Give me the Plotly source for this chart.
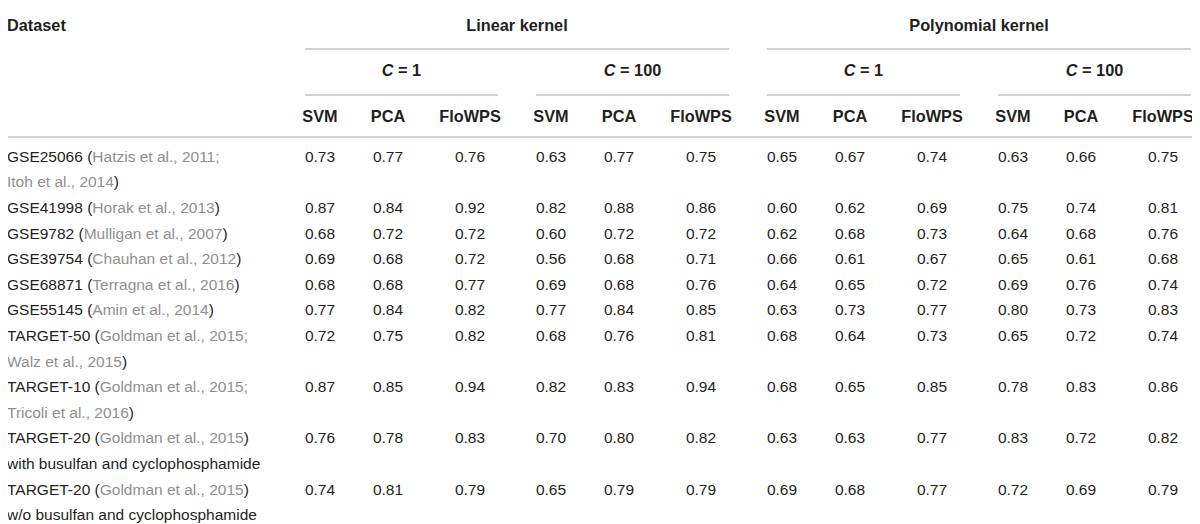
import plotly.graph_objects as go

# Table values
names = ["GSE25066", "GSE41998", "GSE9782", "GSE39754", "GSE68871",
         "GSE55145", "TARGET-50", "TARGET-10", "TARGET-20", "TARGET-20"]
refs = ["Hatzis et al., 2011;|Itoh et al., 2014", "Horak et al., 2013",
        "Mulligan et al., 2007", "Chauhan et al., 2012", "Terragna et al., 2016",
        "Amin et al., 2014", "Goldman et al., 2015;|Walz et al., 2015",
        "Goldman et al., 2015;|Tricoli et al., 2016", "Goldman et al., 2015",
        "Goldman et al., 2015"]
notes = ["", "", "", "", "", "", "", "",
         "with busulfan and cyclophosphamide", "w/o busulfan and cyclophosphamide"]

kernels = ["Linear kernel", "Polynomial kernel"]
c_values = ["1", "100"]
methods = ["SVM", "PCA", "FloWPS"]

lin_c1_svm = [0.73, 0.87, 0.68, 0.69, 0.68, 0.77, 0.72, 0.87, 0.76, 0.74]
lin_c1_pca = [0.77, 0.84, 0.72, 0.68, 0.68, 0.84, 0.75, 0.85, 0.78, 0.81]
lin_c1_flowps = [0.76, 0.92, 0.72, 0.72, 0.77, 0.82, 0.82, 0.94, 0.83, 0.79]
lin_c100_svm = [0.63, 0.82, 0.60, 0.56, 0.69, 0.77, 0.68, 0.82, 0.70, 0.65]
lin_c100_pca = [0.77, 0.88, 0.72, 0.68, 0.68, 0.84, 0.76, 0.83, 0.80, 0.79]
lin_c100_flowps = [0.75, 0.86, 0.72, 0.71, 0.76, 0.85, 0.81, 0.94, 0.82, 0.79]
poly_c1_svm = [0.65, 0.60, 0.62, 0.66, 0.64, 0.63, 0.68, 0.68, 0.63, 0.69]
poly_c1_pca = [0.67, 0.62, 0.68, 0.61, 0.65, 0.73, 0.64, 0.65, 0.63, 0.68]
poly_c1_flowps = [0.74, 0.69, 0.73, 0.67, 0.72, 0.77, 0.73, 0.85, 0.77, 0.77]
poly_c100_svm = [0.63, 0.75, 0.64, 0.65, 0.69, 0.80, 0.65, 0.78, 0.83, 0.72]
poly_c100_pca = [0.66, 0.74, 0.68, 0.61, 0.76, 0.73, 0.72, 0.83, 0.72, 0.69]
poly_c100_flowps = [0.75, 0.81, 0.76, 0.68, 0.74, 0.83, 0.74, 0.86, 0.82, 0.79]

columns = [lin_c1_svm, lin_c1_pca, lin_c1_flowps,
           lin_c100_svm, lin_c100_pca, lin_c100_flowps,
           poly_c1_svm, poly_c1_pca, poly_c1_flowps,
           poly_c100_svm, poly_c100_pca, poly_c100_flowps]

# layout (pixel-like axis units)
FONT = "Liberation Sans, Arial, sans-serif"
FS = 15.5
FS_HEAD = 16.3
DARK = "#231f20"
GRAY = "#8f8f8f"
RULE = "#d3d3d3"
group_left = [305, 536, 767, 998]
group_w = 193
sub_center = [15, 83, 165]
first_line_y = 158
line_h = 25.6
label_x = 7
PAGE_PAD = 8  # browser body margin

col_x = [g + s for g in group_left for s in sub_center]


def gray(s):
    return f"<span style='color:{GRAY}'>{s}</span>"


# dataset labels, one text point per line
lab_x, lab_y, lab_t = [], [], []
row_y = []
k = 0
for name, ref, note in zip(names, refs, notes):
    y0 = first_line_y + line_h * k
    row_y.append(y0)
    parts = ref.split("|")
    if len(parts) == 1:
        lines = [f"{name} ({gray(parts[0])})"]
    else:
        lines = [f"{name} ({gray(parts[0])}", f"{gray(parts[1])})"]
    if note:
        lines.append(note)
    for i, ln in enumerate(lines):
        lab_x.append(label_x)
        lab_y.append(y0 + line_h * i)
        lab_t.append(ln)
    k += len(lines)

fig = go.Figure()

fig.add_trace(go.Scatter(x=lab_x, y=lab_y, text=lab_t, mode="text",
                         textposition="middle right",
                         textfont=dict(family=FONT, size=FS, color=DARK),
                         hoverinfo="skip", showlegend=False))

# numeric cells
num_x, num_y, num_t = [], [], []
for cx, vals in zip(col_x, columns):
    for ry, v in zip(row_y, vals):
        num_x.append(cx)
        num_y.append(ry)
        num_t.append(f"{v:.2f}")
fig.add_trace(go.Scatter(x=num_x, y=num_y, text=num_t, mode="text",
                         textposition="middle center",
                         textfont=dict(family=FONT, size=FS, color=DARK),
                         hoverinfo="skip", showlegend=False))

# headers
hx, hy, ht = [], [], []
for ki, kern in enumerate(kernels):
    left = group_left[2 * ki]
    right = group_left[2 * ki + 1] + group_w
    hx.append((left + right) / 2)
    hy.append(27)
    ht.append(f"<b>{kern}</b>")
for gi, g in enumerate(group_left):
    hx.append(g + group_w / 2)
    hy.append(72)
    ht.append(f"<b><i>C</i> = {c_values[gi % 2]}</b>")
for cx, m in zip(col_x, methods * 4):
    hx.append(cx)
    hy.append(118)
    ht.append(f"<b>{m}</b>")
fig.add_trace(go.Scatter(x=hx, y=hy, text=ht, mode="text",
                         textposition="middle center",
                         textfont=dict(family=FONT, size=FS_HEAD, color=DARK),
                         hoverinfo="skip", showlegend=False))
fig.add_trace(go.Scatter(x=[label_x], y=[27], text=["<b>Dataset</b>"], mode="text",
                         textposition="middle right",
                         textfont=dict(family=FONT, size=FS_HEAD, color=DARK),
                         hoverinfo="skip", showlegend=False))

# rules
def rule(x0, x1, y):
    fig.add_shape(type="line", xref="x", yref="y", x0=x0, x1=x1, y0=y, y1=y,
                  line=dict(color=RULE, width=2))

rule(-10, 1193, 5)
rule(-10, 1193, 137)
for ki in range(2):
    rule(group_left[2 * ki], group_left[2 * ki + 1] + group_w, 49)
for g in group_left:
    rule(g, g + group_w, 95)

fig.update_xaxes(range=[PAGE_PAD, 1200 + PAGE_PAD], visible=False, fixedrange=True)
fig.update_yaxes(range=[524 + PAGE_PAD, PAGE_PAD], visible=False, fixedrange=True)
fig.update_layout(width=1200, height=524, margin=dict(l=0, r=0, t=0, b=0),
                  paper_bgcolor="white", plot_bgcolor="white")

fig.write_html("out.html")
